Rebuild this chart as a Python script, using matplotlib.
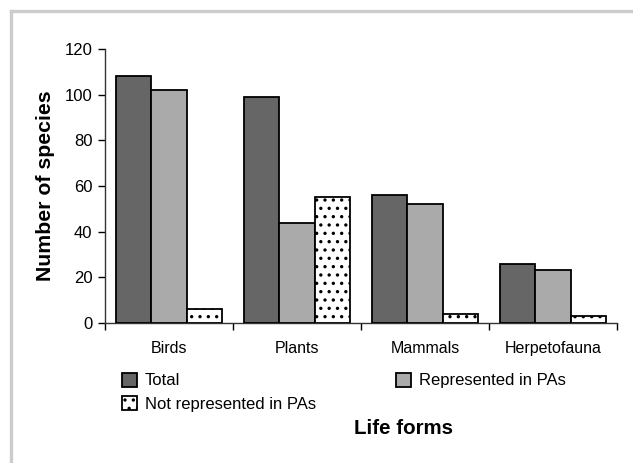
import matplotlib
matplotlib.use("Agg")
import matplotlib.pyplot as plt
from matplotlib.lines import Line2D
import numpy as np
from matplotlib import font_manager

categories = ["Birds", "Plants", "Mammals", "Herpetofauna"]
total = [108, 99, 56, 26]
represented = [102, 44, 52, 23]
not_represented = [6, 55, 4, 3]
yticks = [0, 20, 40, 60, 80, 100, 120]

names = {f.name for f in font_manager.fontManager.ttflist}
narrow = "Liberation Sans Narrow" if "Liberation Sans Narrow" in names else "Liberation Sans"
plt.rcParams['font.family'] = [narrow, 'DejaVu Sans']
plt.rcParams['hatch.linewidth'] = 1.2

fig = plt.figure(figsize=(6.33, 4.63), dpi=100)
# gray frame
fig.add_artist(Line2D([11/633, 1], [1-11/463, 1-11/463], color='#cccccc', lw=2.4, transform=fig.transFigure))
fig.add_artist(Line2D([11/633, 11/633], [0, 1-11/463], color='#cccccc', lw=2.4, transform=fig.transFigure))

ax = fig.add_axes([105/633, 1-323/463, (617-105)/633, (323-49)/463])
x = np.arange(len(categories))
w = 0.277
ax.bar(x - w, total, w, color='#666666', edgecolor='black', lw=1.3, label='Total', zorder=3)
ax.bar(x, represented, w, color='#aaaaaa', edgecolor='black', lw=1.3, label='Represented in PAs', zorder=3)
ax.bar(x + w, not_represented, w, color='white', edgecolor='black', lw=1.3, hatch='..', label='Not represented in PAs', zorder=3)

ax.set_xlim(-0.5, len(categories) - 0.5)
ax.set_ylim(0, 120)
ax.set_yticks(yticks)
ax.tick_params(axis='y', labelsize=12, length=5, width=1, pad=4, direction='out')
ax.set_xticks(x)
ax.set_xticklabels(categories)
ax.tick_params(axis='x', which='major', length=0, labelsize=11.5, pad=13)
ax.set_xticks(np.arange(-0.5, len(categories)), minor=True)
ax.tick_params(axis='x', which='minor', length=5, width=1, direction='out')
for s in ['top', 'right']:
    ax.spines[s].set_visible(False)
for s in ['left', 'bottom']:
    ax.spines[s].set_linewidth(1)
    ax.spines[s].set_color('#333333')

ax.set_ylabel('Number of species', fontsize=15.3, fontweight='bold', family=['Liberation Sans', 'DejaVu Sans'], labelpad=7)

h, l = ax.get_legend_handles_labels()
order = [0, 2, 1]
fig.legend([h[i] for i in order], [l[i] for i in order], ncol=2, loc='upper left',
           bbox_to_anchor=(115/633, 1-366/463), frameon=False, fontsize=12,
           handlelength=0.9, handleheight=0.9, handletextpad=0.5, columnspacing=4.8,
           labelspacing=0.45, borderaxespad=0)

fig.text(404/633, 1-428/463, 'Life forms', fontsize=14.8, fontweight='bold',
         family=['Liberation Sans', 'DejaVu Sans'], ha='center', va='center')

fig.savefig('out.png', dpi=100)
